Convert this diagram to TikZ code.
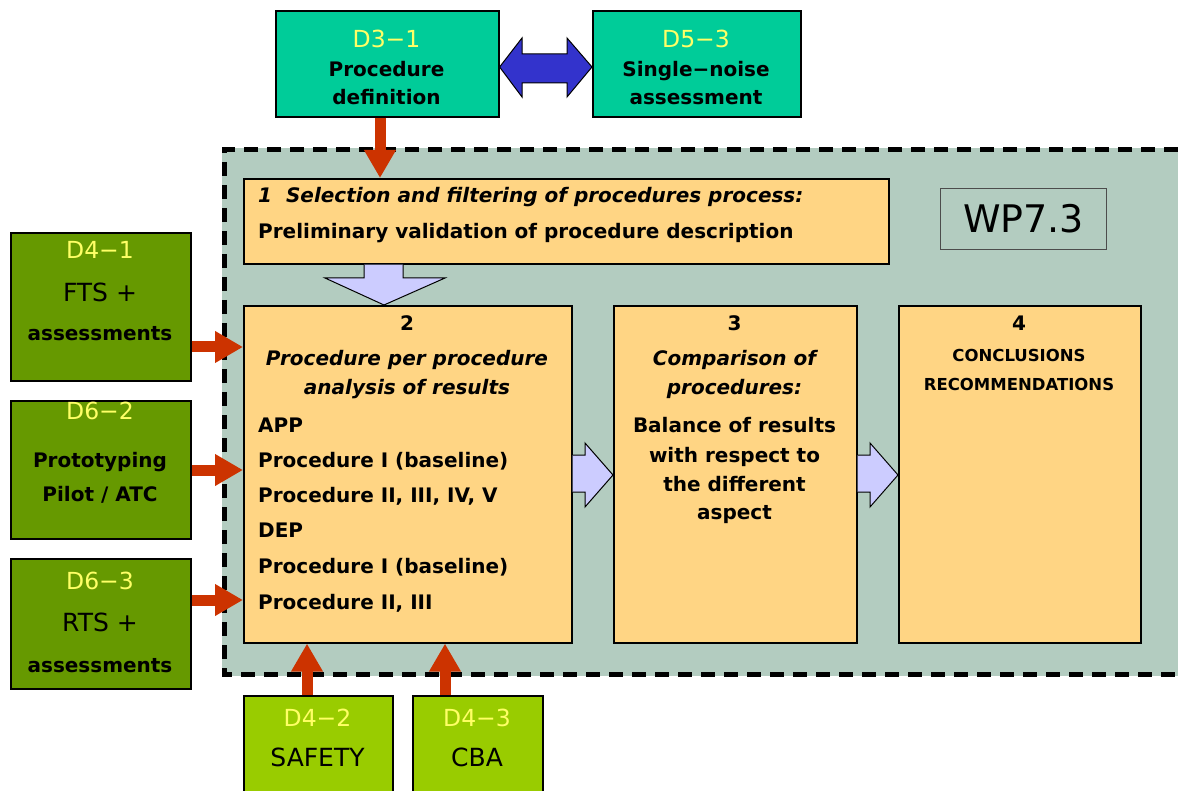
\documentclass[tikz,border=0pt]{standalone}
\usepackage{fontspec}
\setmainfont{DejaVu Sans}
\usetikzlibrary{arrows.meta,calc}
\definecolor{teal1}{HTML}{00CC99}
\definecolor{olive1}{HTML}{669900}
\definecolor{lime1}{HTML}{99CC00}
\definecolor{box1}{HTML}{FFD584}
\definecolor{cont}{HTML}{B3CCC0}
\definecolor{red1}{HTML}{CC3300}
\definecolor{blue1}{HTML}{3333CC}
\definecolor{lav}{HTML}{CCCCFF}
\definecolor{yel}{HTML}{FFFF66}
\newcommand\fb{\fontsize{20}{24}\selectfont\bfseries}
\newcommand\fbi{\fontsize{20}{24}\selectfont\bfseries\itshape}
\newcommand\fy{\fontsize{23.5}{28}\selectfont}
\newcommand\fl{\fontsize{25}{30}\selectfont}
\newcommand\fs{\fontsize{16.5}{20}\selectfont\bfseries}
\tikzset{
  orbox/.style={draw=black, line width=1.6pt, fill=box1, inner sep=0pt, anchor=north west},
  tealbox/.style={orbox, fill=teal1},
  olbox/.style={orbox, fill=olive1},
  limebox/.style={orbox, fill=lime1},
  redarrow/.style={draw=red1, line width=11pt, -{Triangle[width=30pt,length=28pt]}},
  blockarrow/.style={draw=black, line width=1pt, fill=lav, line join=miter},
  t/.style={anchor=base, inner sep=0pt},
  tl/.style={anchor=base west, inner sep=0pt},
  yt/.style={t, text=yel, font=\fy},
}
\begin{document}
\begin{tikzpicture}[x=1pt,y=-1pt]
\useasboundingbox (0,0) rectangle (1178,791);
% container
\fill[cont] (222,148) rectangle (1178,676);
\draw[line width=5pt, dash pattern=on 14pt off 9pt] (1178,150) -- (224,150) -- (224,674) -- (1178,674);
% boxes
\node[tealbox, minimum width=223pt, minimum height=106pt] (d31) at (275,10) {};
\node[tealbox, minimum width=208pt, minimum height=106pt] (d53) at (592,10) {};
\node[orbox, minimum width=645pt, minimum height=85pt] (b1) at (243,178) {};
\node[draw=black!70, line width=1pt, fill=cont, anchor=north west, minimum width=166pt, minimum height=61pt] (wp) at (940,188) {};
\node[font=\fontsize{38}{42}\selectfont, inner sep=0pt] (wpt) at (wp.center) {WP7.3};
\node[orbox, minimum width=328pt, minimum height=337pt] (b2) at (243,305) {};
\node[orbox, minimum width=243pt, minimum height=337pt] (b3) at (613,305) {};
\node[orbox, minimum width=242pt, minimum height=337pt] (b4) at (898,305) {};
\node[olbox, minimum width=180pt, minimum height=148pt] (d41) at (10,232) {};
\node[olbox, minimum width=180pt, minimum height=138pt] (d62) at (10,400) {};
\node[olbox, minimum width=180pt, minimum height=130pt] (d63) at (10,558) {};
\node[limebox, minimum width=149pt, minimum height=100pt] (d42) at (243,695) {};
\node[limebox, minimum width=130pt, minimum height=100pt] (d43) at (412,695) {};
% texts top
\node[yt] (d31a) at (386.5,48) {D3−1};
\node[t, font=\fb] (d31b) at (386.5,77) {Procedure};
\node[t, font=\fb] (d31c) at (386.5,105) {definition};
\node[yt] (d53a) at (696,48) {D5−3};
\node[t, font=\fb] (d53b) at (696,77) {Single−noise};
\node[t, font=\fb] (d53c) at (696,105) {assessment};
% box1
\node[tl, font=\fbi] (b1a) at (258,203) {1\ \ Selection and filtering of procedures process:};
\node[tl, font=\fb] (b1b) at (258,239) {Preliminary validation of procedure description};
% box2
\node[t, font=\fb] (b2n) at (407,331) {2};
\node[t, font=\fbi] (b2a) at (407,366) {Procedure per procedure};
\node[t, font=\fbi] (b2b) at (407,395) {analysis of results};
\node[tl, font=\fb] (b2c) at (258,432) {APP};
\node[tl, font=\fb] (b2d) at (258,467) {Procedure I (baseline)};
\node[tl, font=\fb] (b2e) at (258,502) {Procedure II, III, IV, V};
\node[tl, font=\fb] (b2f) at (258,537) {DEP};
\node[tl, font=\fb] (b2g) at (258,573) {Procedure I (baseline)};
\node[tl, font=\fb] (b2h) at (258,609) {Procedure II, III};
% box3
\node[t, font=\fb] (b3n) at (734.5,331) {3};
\node[t, font=\fbi] (b3a) at (734.5,366) {Comparison of};
\node[t, font=\fbi] (b3b) at (734.5,395) {procedures:};
\node[t, font=\fb] (b3c) at (734.5,432) {Balance of results};
\node[t, font=\fb] (b3d) at (734.5,462) {with respect to};
\node[t, font=\fb] (b3e) at (734.5,491) {the different};
\node[t, font=\fb] (b3f) at (734.5,519) {aspect};
% box4
\node[t, font=\fb] (b4n) at (1019,331) {4};
\node[t, font=\fs] (b4a) at (1019,362) {CONCLUSIONS};
\node[t, font=\fs] (b4b) at (1019,391) {RECOMMENDATIONS};
% left
\node[yt] (d41a) at (100,259) {D4−1};
\node[t, font=\fl] (d41b) at (100,302) {FTS +};
\node[t, font=\fb] (d41c) at (100,341) {assessments};
\node[yt] (d62a) at (100,420) {D6−2};
\node[t, font=\fb] (d62b) at (100,467) {Prototyping};
\node[t, font=\fb] (d62c) at (100,501) {Pilot / ATC};
\node[yt] (d63a) at (100,589) {D6−3};
\node[t, font=\fl] (d63b) at (100,631) {RTS +};
\node[t, font=\fb] (d63c) at (100,672) {assessments};
% bottom
\node[yt] (d42a) at (317.5,726) {D4−2};
\node[t, font=\fl] (d42b) at (317.5,766) {SAFETY};
\node[yt] (d43a) at (477,726) {D4−3};
\node[t, font=\fl] (d43b) at (477,766) {CBA};
% red arrows
\draw[redarrow] (d31.south -| 380,0) -- (b1.north -| 380,0);
\draw[redarrow] (d41.east |- 0,347) -- (b2.west |- 0,347);
\draw[redarrow] (d62.east |- 0,470) -- (b2.west |- 0,470);
\draw[redarrow] (d63.east |- 0,600) -- (b2.west |- 0,600);
\draw[redarrow] (d42.north -| 307,0) -- (b2.south -| 307,0);
\draw[redarrow] (d43.north -| 445,0) -- (b2.south -| 445,0);
% blue double arrow
\draw[draw=black, line width=1pt, fill=blue1] (d31.east |- 0,67) -- (522,38) -- (522,54) -- (567,54) -- (567,38) -- (d53.west |- 0,67) -- (567,97) -- (567,83) -- (522,83) -- (522,97) -- cycle;
% lavender block arrows
\draw[blockarrow] (b1.south -| 364,0) -- (364,278) -- (325,278) -- (b2.north -| 384,0) -- (445,278) -- (403,278) -- (b1.south -| 403,0);
\draw[blockarrow] (b2.east |- 0,455) -- (585,455) -- (585,443) -- (b3.west |- 0,475) -- (585,507) -- (585,492) -- (b2.east |- 0,492);
\draw[blockarrow] (b3.east |- 0,455) -- (870,455) -- (870,443) -- (b4.west |- 0,475) -- (870,507) -- (870,492) -- (b3.east |- 0,492);
\end{tikzpicture}
\end{document}
